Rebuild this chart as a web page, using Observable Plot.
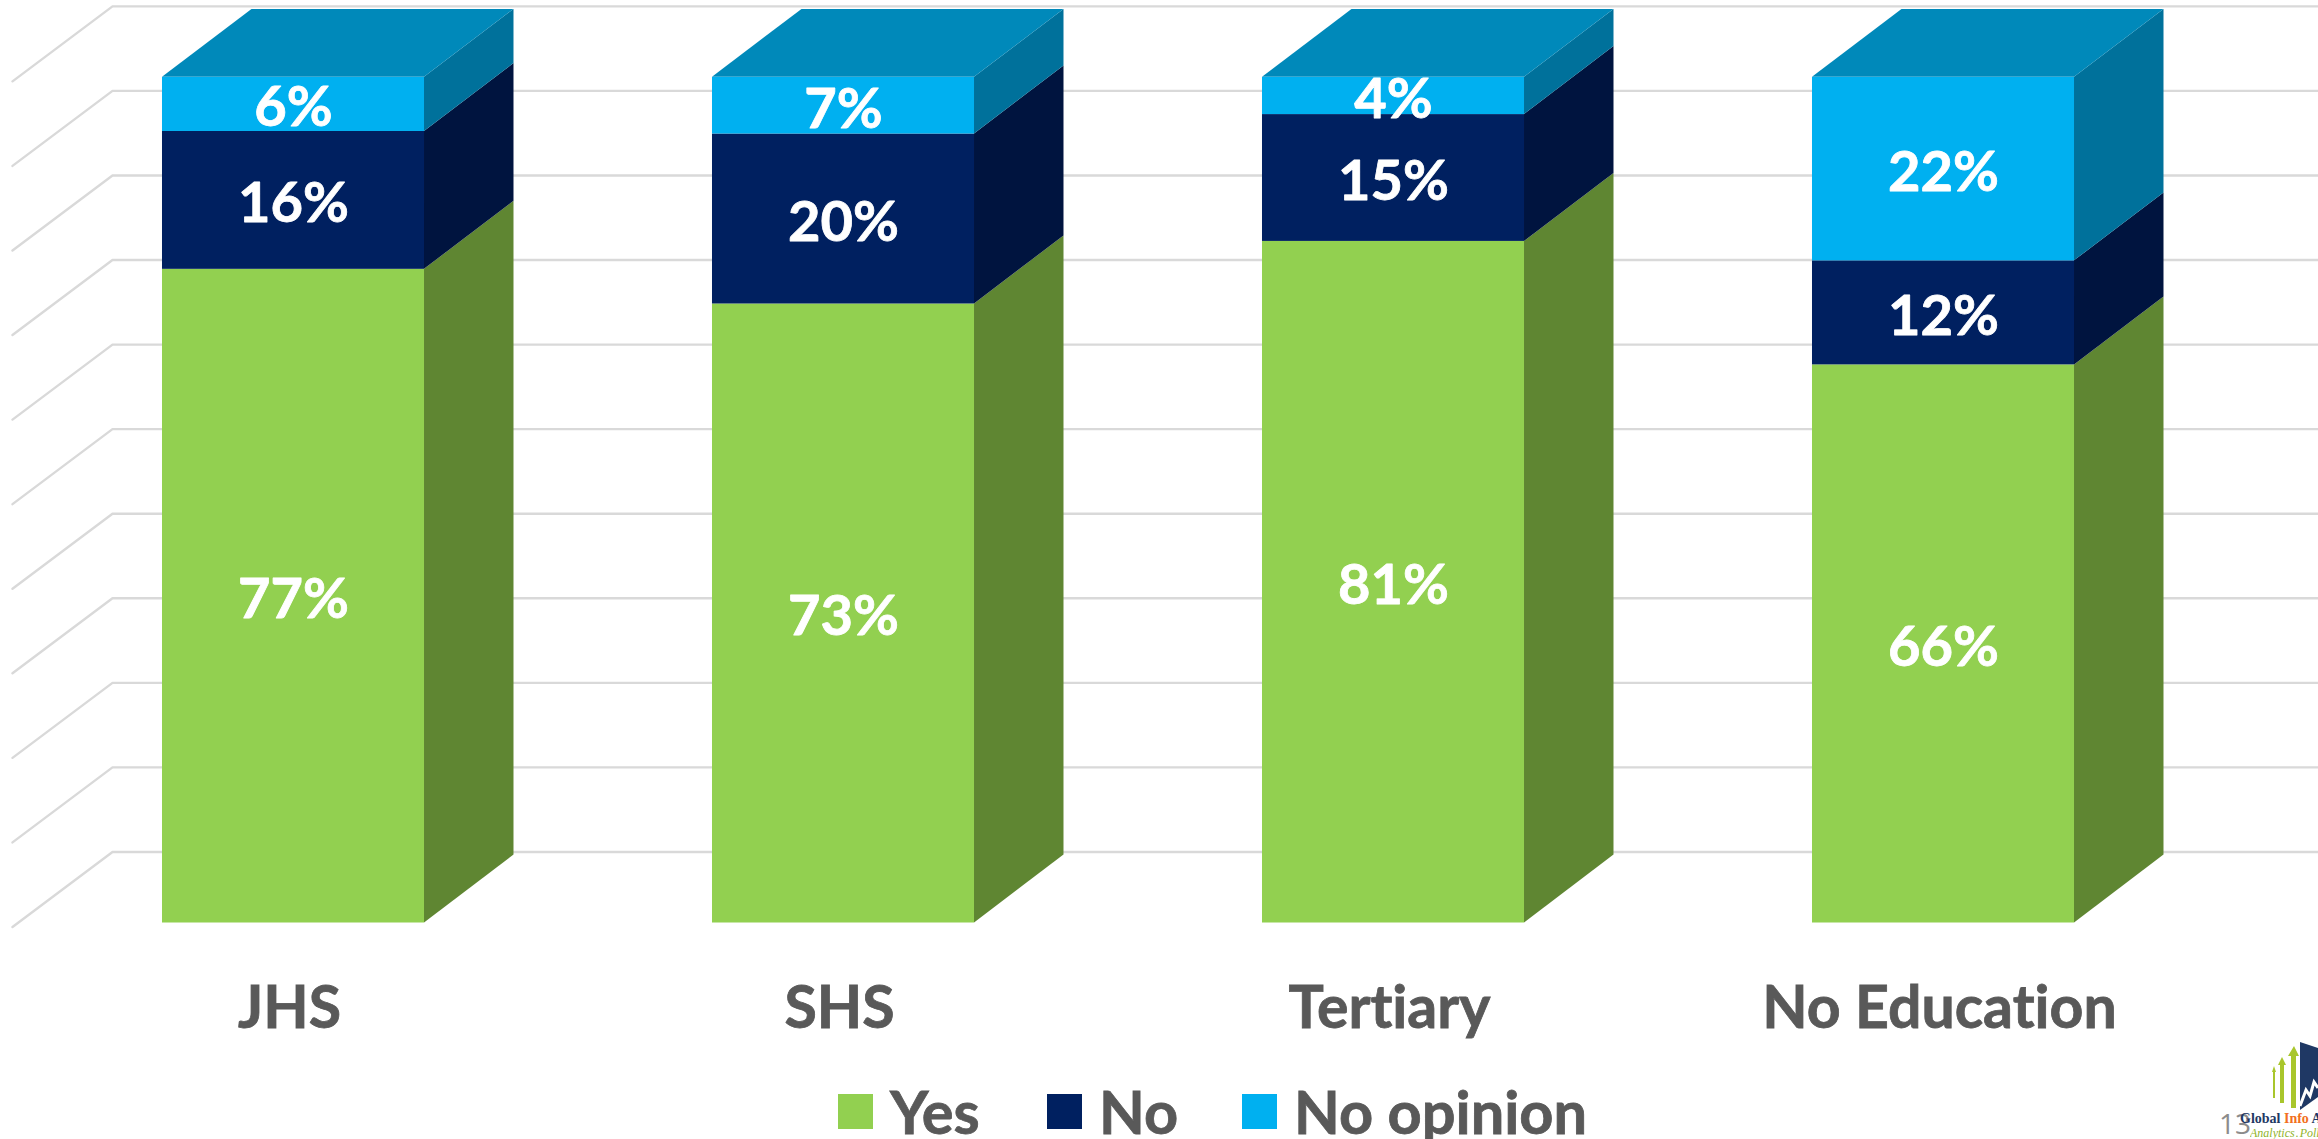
<!DOCTYPE html>
<html><head><meta charset="utf-8">
<script src="https://cdn.jsdelivr.net/npm/d3@7"></script>
<script src="https://cdn.jsdelivr.net/npm/@observablehq/plot@0.6"></script>
<style>
html,body{margin:0;padding:0;background:#fff;width:2318px;height:1139px;overflow:hidden;font-family:Lato,sans-serif;font-variant-ligatures:none}
#chart{position:absolute;left:0;top:0}
#chart svg{display:block;background:#fff}
#chart text{font-variant-ligatures:none}
#chart g[aria-label="x-axis tick label"] text{stroke:#595959;stroke-width:.8px}
.leg{position:absolute;font:700 59.5px/54px Lato,sans-serif;color:#595959;white-space:nowrap;-webkit-text-stroke:.8px #595959;font-variant-ligatures:none}
.sw{position:absolute;top:1094px;width:35px;height:35px}
</style></head><body>
<div id="chart"></div>
<div class="sw" style="left:838px;background:#92D050"></div><div class="leg" style="left:890px;top:1084px">Yes</div>
<div class="sw" style="left:1047px;background:#002060"></div><div class="leg" style="left:1099px;top:1084px">No</div>
<div class="sw" style="left:1242px;background:#00B0F0"></div><div class="leg" style="left:1294px;top:1084px">No opinion</div>
<div style="position:absolute;left:2219px;top:1104px;font:28px 'Open Sans',sans-serif;color:#8c8c8c;z-index:1">13</div>
<svg style="position:absolute;left:2270px;top:1040px" width="48" height="72" viewBox="0 0 48 72">
<g fill="#a9c62c"><path d="M3 58V32H2L4 26L6 32H5V58Z"/><path d="M10 63V25H8L12 17L16 25H14V63Z"/><path d="M21 68V16H18L24 6L29 16H26V68Z"/></g>
<path d="M30 2L48 8V57L30 70Z" fill="#1f3864"/><path d="M30 66L36 50L40 56L44 42L48 48" fill="none" stroke="#fff" stroke-width="3"/></svg>
<div style="position:absolute;left:2240px;top:1111px;font:700 14px 'Liberation Serif',serif;color:#1f3864;white-space:nowrap;width:78px;overflow:hidden;z-index:2">Global <span style="color:#f26f21">Info</span> A</div>
<div style="position:absolute;left:2250px;top:1126px;font:italic 12px 'Liberation Serif',serif;word-spacing:-2px;color:#8fb32a;white-space:nowrap;width:68px;overflow:hidden">Analytics . Polls . R</div>
<script>
const categories = ["JHS", "SHS", "Tertiary", "No Education"];
const series = ["Yes", "No", "No opinion"];
const yes = [77.3, 73.2, 80.6, 66.0];
const no = [16.3, 20.1, 15.0, 12.3];
const noOpinion = [6.4, 6.7, 4.4, 21.7];
const frontColors = ["#92D050", "#002060", "#00B0F0"];
const sideColors = ["#5F8632", "#00143F", "#00719B"];
const topColor = "#0089BA";
const gridValues = [0, 10, 20, 30, 40, 50, 60, 70, 80, 90, 100];

const halfWidth = 0.2382, depthX = 0.1627, depthY = 8.04;
const gridShift = -0.47, gridDepthX = 0.1818, gridDepthY = 8.87;
const xMin = -293 / 550, xMax = (2318 - 293) / 550;
const gridLeft = -281 / 550;

const values = [yes, no, noOpinion];
const segments = [];
categories.forEach((c, i) => {
  let base = 0;
  values.forEach((v, s) => {
    segments.push({i, s, y1: base, y2: base + v[i], value: v[i], key: c + s});
    base += v[i];
  });
});
const sidePoints = segments.flatMap(d => [
  {key: d.key, s: d.s, x: d.i + halfWidth, y1: d.y1, y2: d.y2},
  {key: d.key, s: d.s, x: d.i + halfWidth + depthX, y1: d.y1 + depthY, y2: d.y2 + depthY}
]);
const topPoints = categories.flatMap((c, i) => [
  {key: c, y: 100, x1: i - halfWidth, x2: i + halfWidth},
  {key: c, y: 100 + depthY, x1: i - halfWidth + depthX, x2: i + halfWidth + depthX}
]);
const gridPoints = gridValues.flatMap(v => [
  {v, x: gridLeft, y: v + gridShift},
  {v, x: gridLeft + gridDepthX, y: v + gridShift + gridDepthY},
  {v, x: xMax, y: v + gridShift + gridDepthY}
]);

const plot = Plot.plot({
  width: 2318, height: 1085,
  marginLeft: 0, marginRight: 0, marginTop: 0, marginBottom: 162.5,
  x: {type: "linear", domain: [xMin, xMax]},
  y: {type: "linear", domain: [0, 109.09], axis: null},
  color: {type: "identity"},
  style: {background: "#fff", fontFamily: "Lato, sans-serif"},
  marks: [
    Plot.line(gridPoints, {x: "x", y: "y", z: "v", stroke: "#D9D9D9", strokeWidth: 2.4, curve: "linear", clip: false}),
    Plot.areaY(sidePoints, {x: "x", y1: "y1", y2: "y2", z: "key", fill: d => sideColors[d.s], curve: "linear"}),
    Plot.areaX(topPoints, {y: "y", x1: "x1", x2: "x2", z: "key", fill: topColor, curve: "linear"}),
    Plot.rect(segments, {x1: d => d.i - halfWidth, x2: d => d.i + halfWidth, y1: "y1", y2: "y2", fill: d => frontColors[d.s]}),
    Plot.text(segments, {x: "i", y: d => (d.y1 + d.y2) / 2, text: d => Math.round(d.value) + "%", fill: "white", stroke: "white", strokeWidth: 0.8, fontSize: 56, fontWeight: 700, dy: 4}),
    Plot.axisX({ticks: [0, 1, 2, 3], tickFormat: i => categories[i], tickSize: 0, tickPadding: 63, fontSize: 59, fontWeight: 700, fill: "#595959", dx: -4, label: null, anchor: "bottom"})
  ]
});
document.getElementById("chart").append(plot);
</script>
</body></html>
